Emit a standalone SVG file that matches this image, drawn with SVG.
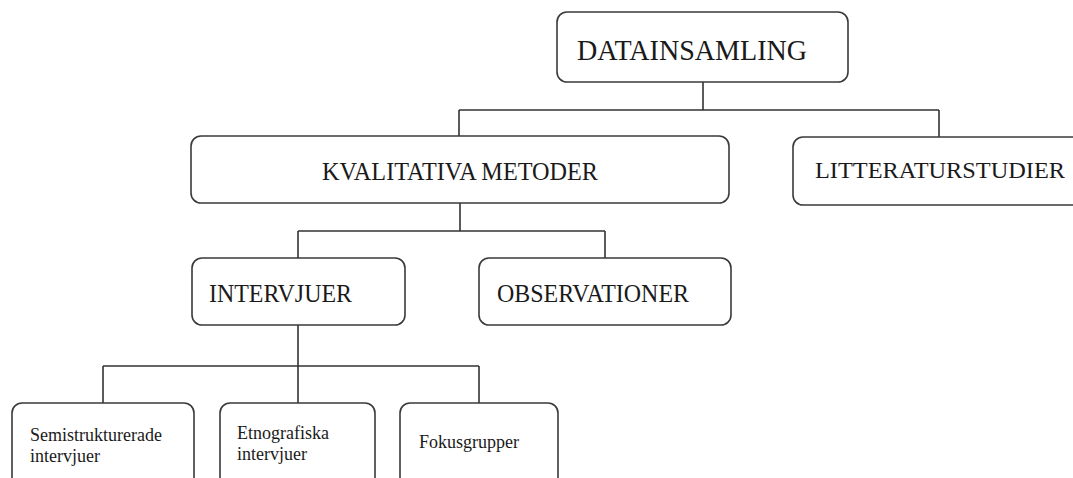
<svg xmlns="http://www.w3.org/2000/svg" width="1073" height="478" viewBox="0 0 1073 478">
<style>
.box{fill:#fff;stroke:#3a3a3a;stroke-width:1.6}
.lbl{font-family:"Liberation Serif","Times New Roman",serif;fill:#1a1a1a}
.conn{fill:none;stroke:#333;stroke-width:1.6}
</style>
<rect width="1073" height="478" fill="#fff"/>
<g id="connectors">
<path class="conn" d="M703 82V110M459 110H939M459 110V136M939 110V137"/>
<path class="conn" d="M460 203V231M298 231H605M298 231V258M605 231V258"/>
<path class="conn" d="M298 325V366M103 366H479M103 366V403M298 366V403M479 366V403"/>
</g>
<g id="datainsamling">
<rect class="box" x="557" y="12" width="291" height="70" rx="10"/>
<text class="lbl" x="577" y="60" font-size="30" textLength="230" lengthAdjust="spacingAndGlyphs">DATAINSAMLING</text>
</g>
<g id="kvalitativa">
<rect class="box" x="191" y="136" width="538" height="67" rx="10"/>
<text class="lbl" x="322" y="180" font-size="25" textLength="276" lengthAdjust="spacingAndGlyphs">KVALITATIVA METODER</text>
</g>
<g id="litteraturstudier">
<rect class="box" x="793" y="137" width="290" height="68" rx="10"/>
<text class="lbl" x="815" y="178" font-size="24" textLength="250" lengthAdjust="spacingAndGlyphs">LITTERATURSTUDIER</text>
</g>
<g id="intervjuer">
<rect class="box" x="192" y="258" width="213" height="67" rx="10"/>
<text class="lbl" x="209" y="302" font-size="25" textLength="143" lengthAdjust="spacingAndGlyphs">INTERVJUER</text>
</g>
<g id="observationer">
<rect class="box" x="479" y="258" width="252" height="67" rx="10"/>
<text class="lbl" x="497" y="302" font-size="25" textLength="192" lengthAdjust="spacingAndGlyphs">OBSERVATIONER</text>
</g>
<g id="semistrukturerade">
<rect class="box" x="12" y="403" width="182" height="90" rx="10"/>
<text class="lbl" x="30" y="441" font-size="18">Semistrukturerade</text>
<text class="lbl" x="30" y="462" font-size="18">intervjuer</text>
</g>
<g id="etnografiska">
<rect class="box" x="220" y="403" width="155" height="90" rx="10"/>
<text class="lbl" x="237" y="439" font-size="18">Etnografiska</text>
<text class="lbl" x="237" y="460" font-size="18">intervjuer</text>
</g>
<g id="fokusgrupper">
<rect class="box" x="400" y="403" width="158" height="90" rx="10"/>
<text class="lbl" x="419" y="448" font-size="18">Fokusgrupper</text>
</g>
</svg>
